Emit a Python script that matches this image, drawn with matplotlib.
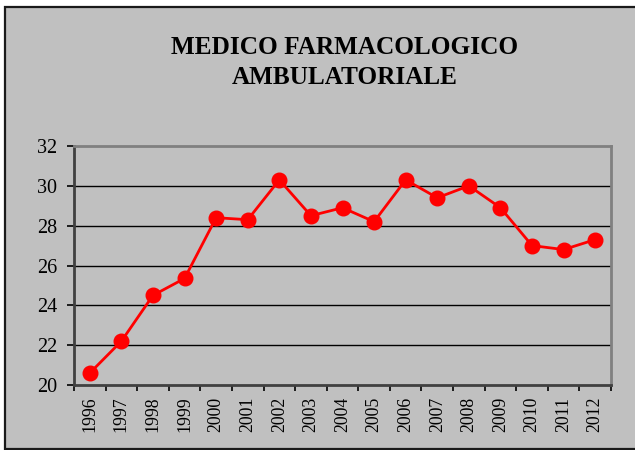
import matplotlib
matplotlib.use("Agg")
import matplotlib.pyplot as plt
from matplotlib.patches import Rectangle
import numpy as np

years = ["1996", "1997", "1998", "1999", "2000", "2001", "2002", "2003", "2004",
         "2005", "2006", "2007", "2008", "2009", "2010", "2011", "2012"]
values = [20.6, 22.2, 24.5, 25.35, 28.4, 28.3, 30.3, 28.5, 28.9,
          28.2, 30.3, 29.4, 30.0, 28.9, 27.0, 26.8, 27.3]
title_lines = ["MEDICO FARMACOLOGICO", "AMBULATORIALE"]
y_ticks = [20, 22, 24, 26, 28, 30, 32]

W, H = 635, 450
bg = "#C0C0C0"
serif = ["Liberation Serif", "DejaVu Serif"]

fig = plt.figure(figsize=(W / 100, H / 100), dpi=100)
fig.patch.set_facecolor("white")

# chart panel with a dark frame
fig.patches.append(Rectangle((5 / W, 1 - 449 / H), (W + 10 - 5) / W, (449 - 6.5) / H,
                             transform=fig.transFigure, facecolor=bg,
                             edgecolor="#1a1a1a", linewidth=1.6, zorder=-5))

ax = fig.add_axes([74 / W, 1 - 385 / H, (611 - 74) / W, (385 - 146) / H])
ax.set_zorder(2)
ax.set_facecolor(bg)

x = np.arange(len(years))
ax.set_xlim(-0.5, len(years) - 0.5)
ax.set_ylim(20, 32)

for yv in y_ticks[1:-1]:
    ax.axhline(yv, color="black", linewidth=1.0, zorder=1)

ax.plot(x, values, color="#FF0000", linewidth=2.0, marker="o", markersize=10.5,
        markerfacecolor="#FF0000", markeredgecolor="#FF0000", zorder=3,
        clip_on=False)

for side in ["top", "right"]:
    ax.spines[side].set_color("#808080")
    ax.spines[side].set_linewidth(2.0)
ax.spines["left"].set_color("#404040")
ax.spines["left"].set_linewidth(2.0)
ax.spines["bottom"].set_color("#404040")
ax.spines["bottom"].set_linewidth(2.0)

ax.set_yticks(y_ticks)
ax.set_yticklabels([str(v) for v in y_ticks], fontfamily=serif, fontsize=14.5)
ax.tick_params(axis="y", direction="out", length=5, width=1.2, color="black", pad=7)

ax.set_xticks(x)
ax.set_xticklabels(years, rotation=90, fontfamily=serif, fontsize=12.8)
ax.tick_params(axis="x", which="major", length=0, pad=8.5)
ax.set_xticks(np.arange(-0.5, len(years), 1.0), minor=True)
ax.tick_params(axis="x", which="minor", direction="out", length=4, width=1.2, color="black")

fig.text(345 / W, 1 - 47 / H, title_lines[0], ha="center", va="center",
         fontfamily=serif, fontweight="bold", fontsize=18.2)
fig.text(345 / W, 1 - 78 / H, title_lines[1], ha="center", va="center",
         fontfamily=serif, fontweight="bold", fontsize=18.2)

fig.savefig("out.png", dpi=100, facecolor=fig.get_facecolor())
